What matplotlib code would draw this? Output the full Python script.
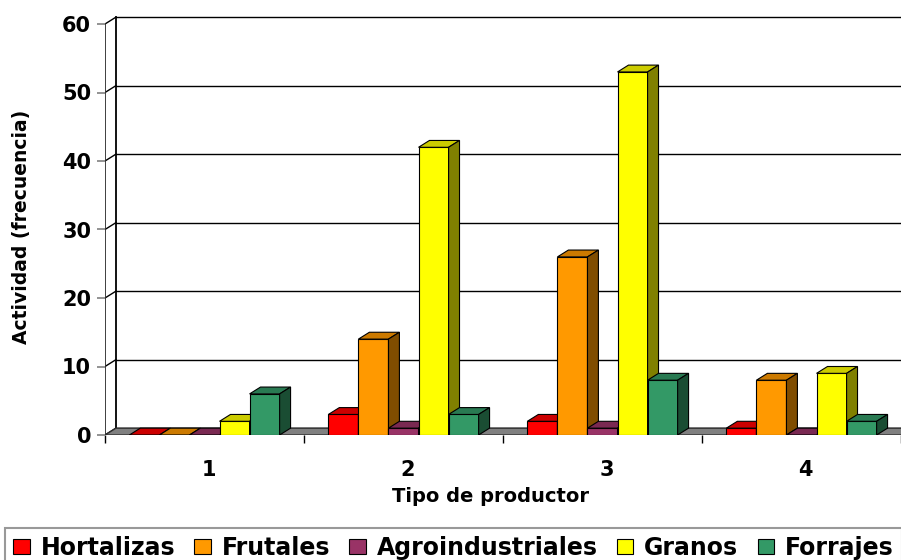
import matplotlib
matplotlib.use("Agg")
import matplotlib.pyplot as plt
from matplotlib.patches import Polygon, Patch
from matplotlib.colors import to_rgb

# ---- data -------------------------------------------------------------
categories = ["1", "2", "3", "4"]
series_names = ["Hortalizas", "Frutales", "Agroindustriales", "Granos", "Forrajes"]
hortalizas = [0, 3, 2, 1]
frutales = [0, 14, 26, 8]
agroindustriales = [0, 1, 1, 0]
granos = [2, 42, 53, 9]
forrajes = [6, 3, 8, 2]
series_values = [hortalizas, frutales, agroindustriales, granos, forrajes]
series_colors = ["#FF0000", "#FF9900", "#993366", "#FFFF00", "#339966"]
y_ticks = [0, 10, 20, 30, 40, 50, 60]

plt.rcParams["font.family"] = ["DejaVu Sans"]
plt.rcParams["font.weight"] = "bold"

W, H = 901, 560
fig = plt.figure(figsize=(W / 100, H / 100), dpi=100)

# pixel geometry of the plotting box (front plane)
x0_px, x_scale = 105, 199.0
y0_px, y_scale = 435, 6.85
xmax, ymax = 4.1, 61.5
ax = fig.add_axes([x0_px / W, (H - y0_px) / H,
                   xmax * x_scale / W, ymax * y_scale / H])
ax.set_xlim(0, xmax)
ax.set_ylim(0, ymax)
for s in ax.spines.values():
    s.set_visible(False)

# depth offset of the pseudo-3D effect (data units)
ddx, ddy = 0.055, 1.0
top_val = y_ticks[-1]

# floor
ax.add_patch(Polygon([(0, 0), (xmax, 0), (xmax + ddx, ddy), (ddx, ddy)],
                     closed=True, facecolor="#808080", edgecolor="#303030",
                     lw=1.0, zorder=2))

# back wall grid, left wall diagonals and axis lines
for v in y_ticks:
    ax.plot([ddx, xmax + ddx], [v + ddy, v + ddy], color="black", lw=1.0, zorder=1)
    ax.plot([0, ddx], [v, v + ddy], color="black", lw=1.0, zorder=1)
ax.plot([ddx, ddx], [ddy, top_val + ddy], color="black", lw=1.3, zorder=1)
ax.plot([0, 0], [0, top_val], color="#303030", lw=1.3, zorder=1)


def shade(color, f):
    r, g, b = to_rgb(color)
    return (r * f, g * f, b * f)


bw = 0.151
group_gap = (1 - bw * len(series_names)) / 2
n_series = len(series_names)
for j, (vals, col) in enumerate(zip(series_values, series_colors)):
    lefts = [i + group_gap + j * bw for i in range(len(categories))]
    bars = ax.bar(lefts, vals, width=bw, align="edge", color=col,
                  edgecolor="black", lw=0.8)
    for i, (rect, v) in enumerate(zip(bars.patches, vals)):
        z = 3 + (i * n_series + j) * 0.01
        rect.set_zorder(z)
        l = lefts[i]
        top = Polygon([(l, v), (l + bw, v), (l + bw + ddx, v + ddy), (l + ddx, v + ddy)],
                      closed=True, facecolor=shade(col, 0.8), edgecolor="black",
                      lw=0.8, zorder=z + 0.001)
        ax.add_patch(top)
        if v > 0:
            side = Polygon([(l + bw, 0), (l + bw + ddx, ddy), (l + bw + ddx, v + ddy),
                            (l + bw, v)], closed=True, facecolor=shade(col, 0.5),
                           edgecolor="black", lw=0.8, zorder=z + 0.002)
            ax.add_patch(side)

# axes ticks
ax.set_yticks(y_ticks)
ax.set_yticklabels([str(t) for t in y_ticks])
ax.tick_params(axis="y", length=6, width=1.2, color="#808080", pad=4,
               labelsize=15)
ax.set_xticks([i + 0.52 for i in range(len(categories))])
ax.set_xticklabels(categories)
ax.set_xticks(list(range(len(categories) + 1)), minor=True)
ax.tick_params(axis="x", which="major", length=0, pad=18, labelsize=15)
ax.tick_params(axis="x", which="minor", length=6, width=1.0, color="black")

fig.text(22 / W, 1 - 227 / H, "Actividad (frecuencia)", rotation=90,
         ha="center", va="center", fontsize=13.5, fontweight="bold")
fig.text(491 / W, 1 - 497 / H, "Tipo de productor", ha="center", va="center",
         fontsize=14, fontweight="bold")

handles = [Patch(facecolor=c, edgecolor="black", lw=0.8) for c in series_colors]
leg = fig.legend(handles, series_names, ncol=5, loc="upper left",
                 bbox_to_anchor=(5 / W, 1 - 528 / H), frameon=True,
                 fancybox=False, edgecolor="#808080",
                 prop={"weight": "bold", "size": 17},
                 handlelength=0.7, handleheight=0.6, handletextpad=0.45,
                 columnspacing=0.82, borderpad=0.35, borderaxespad=0)
leg.get_frame().set_linewidth(1.5)

fig.savefig("out.png", dpi=100)
